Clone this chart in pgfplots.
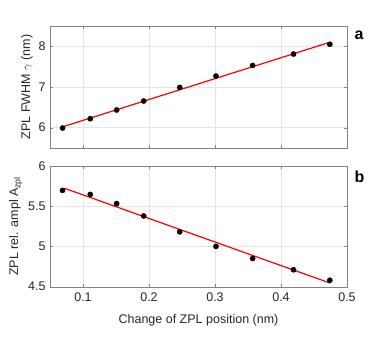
\documentclass[border=0pt]{standalone}
\usepackage{pgfplots}
\pgfplotsset{compat=1.18}
\usepackage{fontspec}
\setmainfont{Liberation Sans}
\definecolor{axgray}{RGB}{130,130,130}
\definecolor{txt}{RGB}{38,38,38}
\begin{document}
\begin{tikzpicture}
\pgfplotsset{
  every axis/.append style={
    scale only axis, width=297pt,
    xmin=0.05, xmax=0.5,
    xtick={0.1,0.2,0.3,0.4,0.5},
    axis line style={axgray},
    tick style={axgray},
    tick align=inside,
    major tick length=3pt,
    grid=major,
    grid style={gray!20},
    clip=false,
    font=\fontsize{12.5}{14}\selectfont,
    tick label style={txt},
    label style={txt},
    /pgf/number format/assume math mode=true,
    yticklabel style={xshift=-1pt},
    xticklabel style={yshift=-3pt},
    xlabel style={yshift=-5pt},
    ylabel style={at={(ticklabel cs:0.5)}, yshift=-1pt},
  },
}
\path[use as bounding box] (0,0) rectangle (382pt,-357pt);

\begin{axis}[
  at={(50pt,-26pt)}, anchor=north west,
  height=122pt,
  ymin=5.5, ymax=8.5, ytick={6,7,8},
  xticklabels={},
  ylabel={ZPL FWHM $\gamma$ (nm)},
]
\addplot[red, line width=1.2pt] coordinates {(0.069,6.02)(0.474,8.10)};
\addplot[only marks, mark=*, mark size=2.6pt, black] coordinates {
(0.069,5.99)(0.111,6.22)(0.151,6.435)(0.192,6.655)(0.2465,6.99)
(0.3015,7.27)(0.357,7.53)(0.419,7.81)(0.474,8.05)};
\node[anchor=north west, font=\fontsize{16}{16}\selectfont\bfseries, inner sep=0pt] at (rel axis cs:1.025,0.96) {a};
\end{axis}

\begin{axis}[
  at={(50pt,-165.7pt)}, anchor=north west,
  height=121pt,
  ymin=4.5, ymax=6, ytick={4.5,5,5.5,6},
  yticklabels={4.5,5,5.5,6},
  xticklabels={0.1,0.2,0.3,0.4,0.5},
  xlabel={Change of ZPL position (nm)},
  ylabel={ZPL rel. ampl A$_{\mathrm{zpl}}$},
]
\addplot[red, line width=1.2pt] coordinates {(0.072,5.72)(0.474,4.546)};
\addplot[only marks, mark=*, mark size=2.6pt, black] coordinates {
(0.069,5.694)(0.111,5.644)(0.151,5.53)(0.192,5.377)(0.2465,5.18)
(0.3015,5.0)(0.357,4.85)(0.419,4.71)(0.474,4.58)};
\node[anchor=north west, font=\fontsize{16}{16}\selectfont\bfseries, inner sep=0pt] at (rel axis cs:1.025,0.96) {b};
\end{axis}
\end{tikzpicture}
\end{document}
